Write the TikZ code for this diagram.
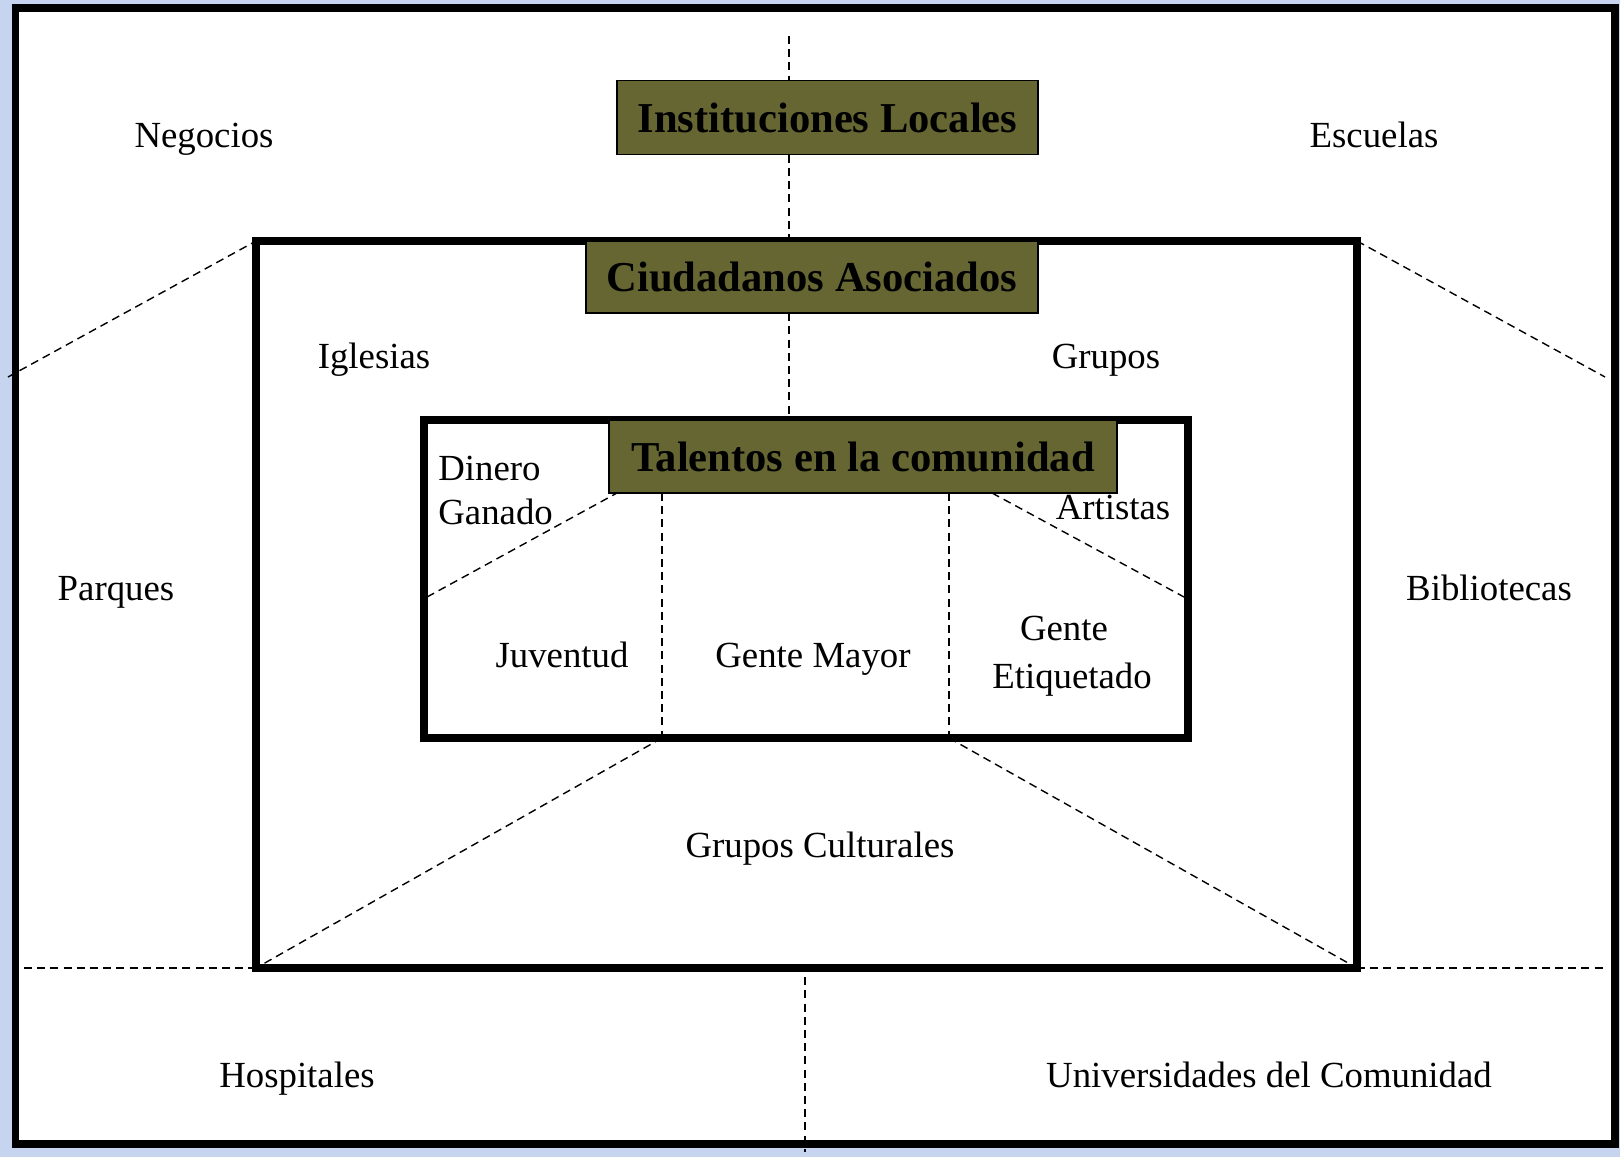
\documentclass[tikz,border=0pt]{standalone}
\usepackage{fontspec}
\setmainfont{Liberation Serif}
\definecolor{olivebox}{RGB}{102,102,51}
\definecolor{bgblue}{RGB}{198,212,240}
\begin{document}
\begin{tikzpicture}[x=0.5pt,y=-0.5pt,
  frame/.style={line width=3.6pt},
  dline/.style={line width=0.7pt,dash pattern=on 4pt off 2.6pt},
  title/.style={draw=black,line width=0.6pt,fill=olivebox,inner sep=0pt,
    font=\fontsize{21.3}{25}\selectfont\bfseries},
  lbl/.style={font=\fontsize{18.4}{22}\selectfont,inner sep=0pt,anchor=base}]
\useasboundingbox (0,0) rectangle (1620,1157);
\fill[bgblue] (0,0) rectangle (1620,1157);
\fill[white] (15.5,8) rectangle (1615,1144);
% coordinates
\coordinate (mTL) at (256,241);
\coordinate (mTR) at (1357,241);
\coordinate (mBL) at (256,968);
\coordinate (mBR) at (1357,968);
\coordinate (iTL) at (424,420);
\coordinate (iBR) at (1188,738);
\coordinate (vTop) at (789,36);
\coordinate (vBot) at (789,420);
\coordinate (lEnd) at (8,377);
\coordinate (rEnd) at (1605,377);
\coordinate (hL) at (24,968);
\coordinate (hR) at (1607,968);
\coordinate (bvTop) at (805,964);
\coordinate (bvBot) at (805,1152);
\coordinate (c1T) at (662,493);
\coordinate (c1B) at (662,738);
\coordinate (c2T) at (949,493);
\coordinate (c2B) at (949,738);
\coordinate (dLa) at (427,597);
\coordinate (dLb) at (617,493);
\coordinate (dRa) at (992,493);
\coordinate (dRb) at (1184,597);
% dashed lines
\draw[dline] (vTop) -- (vBot);
\draw[dline] (lEnd) -- (mTL);
\draw[dline] (mTR) -- (rEnd);
\draw[dline] (hL) -- (mBL);
\draw[dline] (mBR) -- (hR);
\draw[dline] (c1T) -- (c1B);
\draw[dline] (c2T) -- (c2B);
\draw[dline] (dLa) -- (dLb);
\draw[dline] (dRa) -- (dRb);
\draw[dline] (c1B) -- (mBL);
\draw[dline] (c2B) -- (mBR);
% frames
\draw[frame] (15.5,8) rectangle (1615,1144);
\draw[frame] (mTL) rectangle (mBR);
\draw[frame] (iTL) rectangle (iBR);
\draw[dline] (bvTop) -- (bvBot);
% title boxes
\node[title,minimum width=210.5pt,minimum height=37pt] (inst) at (827.5,117.5) {Instituciones Locales};
\node[title,minimum width=226pt,minimum height=36pt] (ciud) at (812,277) {Ciudadanos Asociados};
\node[title,minimum width=254pt,minimum height=36.5pt] (tal) at (863,456.5) {Talentos en la comunidad};
% labels
\node[lbl] (neg) at (204,147.5) {Negocios};
\node[lbl] (esc) at (1374,147.5) {Escuelas};
\node[lbl] (igl) at (374,368.5) {Iglesias};
\node[lbl] (gru) at (1106,368.5) {Grupos};
\node[lbl] (par) at (116,600.5) {Parques};
\node[lbl] (bib) at (1489,600.5) {Bibliotecas};
\node[lbl,anchor=base west] (din) at (438,480) {Dinero};
\node[lbl,anchor=base west] (gan) at (438,524) {Ganado};
\node[lbl] (art) at (1113,519) {Artistas};
\node[lbl] (juv) at (562,667.5) {Juventud};
\node[lbl] (may) at (813,667.5) {Gente Mayor};
\node[lbl] (gen) at (1064,640) {Gente};
\node[lbl] (eti) at (1072,688) {Etiquetado};
\node[lbl] (cul) at (820,857.5) {Grupos Culturales};
\node[lbl] (hos) at (297,1087.5) {Hospitales};
\node[lbl] (uni) at (1269,1087.5) {Universidades del Comunidad};
\end{tikzpicture}
\end{document}
